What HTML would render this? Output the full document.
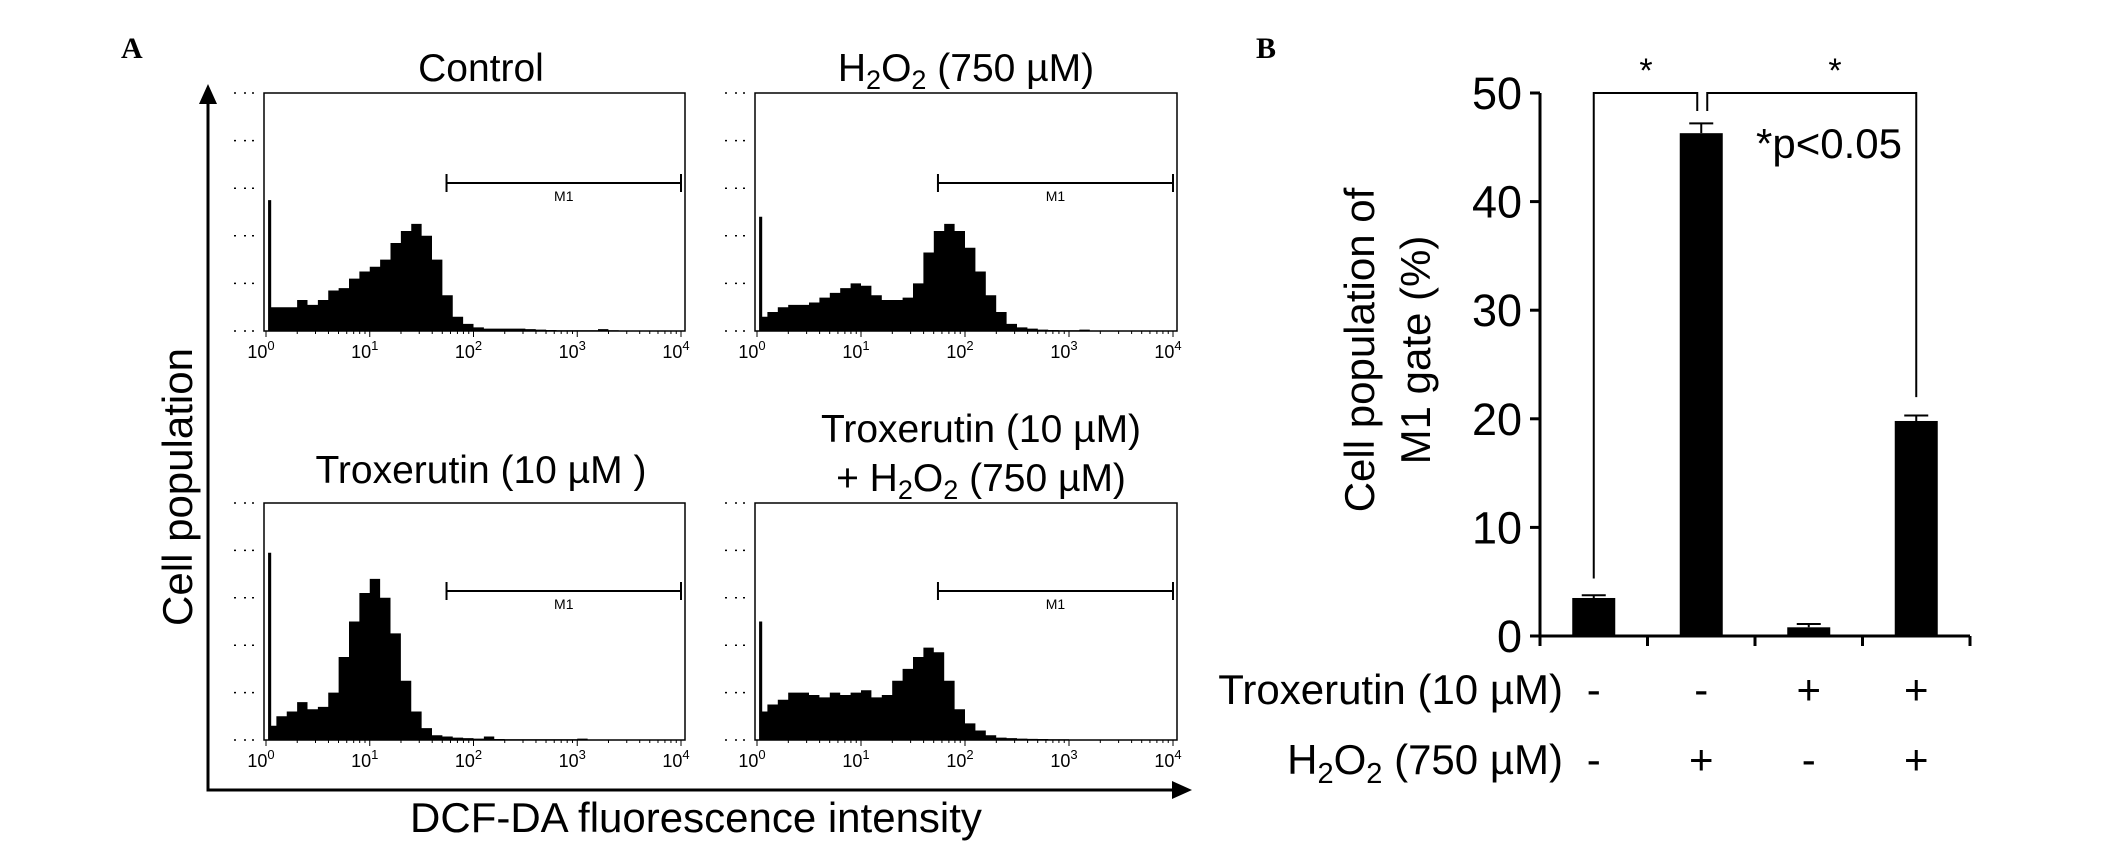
<!DOCTYPE html>
<html><head><meta charset="utf-8"><style>
html,body{margin:0;padding:0;background:#fff}
svg{display:block;font-family:"Liberation Sans",sans-serif}
</style></head><body>
<svg id="fig" width="2126" height="844" viewBox="0 0 2126 844">
<text x="121" y="58" font-family="Liberation Serif" font-weight="bold" font-size="30">A</text>
<text x="1256" y="58" font-family="Liberation Serif" font-weight="bold" font-size="30">B</text>
<g id="panelA"></g>
<g id="panelB"></g>
</svg>
<script>
const NS="http://www.w3.org/2000/svg";
function mk(tag,attrs,parent,txt){const e=document.createElementNS(NS,tag);for(const k in attrs)e.setAttribute(k,attrs[k]);if(txt!==undefined)e.textContent=txt;parent.appendChild(e);return e;}
// ---- Panel A data (relative height per 0.1-decade bin, 10^0..10^4) ----
const spikes=[0.55,0.48,0.79,0.50];
const histControl=[0.10,0.10,0.10,0.13,0.11,0.13,0.17,0.18,0.22,0.25,0.27,0.30,0.37,0.42,0.45,0.40,0.30,0.15,0.06,0.03,0.015,0.01,0.01,0.01,0.01,0.008,0.006,0.004,0.003,0.003,0.003,0.003,0.008,0.003,0.002,0.002,0.002,0.002,0.002,0.002];
const histH2O2=[0.06,0.08,0.10,0.11,0.11,0.12,0.14,0.16,0.18,0.20,0.19,0.15,0.13,0.13,0.14,0.20,0.33,0.42,0.45,0.42,0.35,0.25,0.15,0.08,0.03,0.015,0.01,0.006,0.004,0.003,0.003,0.006,0.002,0.002,0.002,0.002,0.002,0.002,0.002,0.002];
const histTrox=[0.06,0.10,0.12,0.16,0.13,0.14,0.20,0.35,0.50,0.62,0.68,0.60,0.45,0.25,0.12,0.05,0.02,0.015,0.01,0.008,0.006,0.015,0.004,0.003,0.003,0.003,0.003,0.003,0.003,0.003,0.006,0.002,0.002,0.002,0.002,0.002,0.002,0.002,0.002,0.002];
const histCombo=[0.12,0.15,0.17,0.20,0.20,0.19,0.18,0.20,0.19,0.20,0.21,0.18,0.19,0.25,0.30,0.35,0.39,0.37,0.25,0.13,0.07,0.04,0.02,0.01,0.008,0.006,0.005,0.004,0.003,0.003,0.002,0.002,0.002,0.002,0.002,0.002,0.002,0.002,0.002,0.002];
const decadeLabels=["0","1","2","3","4"];
const panels=[
 {x:264,y:93,w:421,h:238,data:histControl,name:"control",gy:183},
 {x:755,y:93,w:422,h:238,data:histH2O2,name:"h2o2",gy:183},
 {x:264,y:503,w:421,h:237,data:histTrox,name:"troxerutin",gy:591},
 {x:755,y:503,w:422,h:237,data:histCombo,name:"troxerutin-h2o2",gy:591}
];
const gateRange=[1.74,4.0];
const A=document.getElementById('panelA');
panels.forEach((p,pi)=>{
 const g=mk('g',{},A);
 
 
 const xs=v=>p.x+2+v/4*(p.w-6);
 const ys=v=>p.y+p.h-v*p.h;
 let d='M'+xs(0)+' '+ys(0);
 d+=' L'+xs(0.02)+' '+ys(0)+' L'+xs(0.02)+' '+ys(spikes[pi])+' L'+xs(0.05)+' '+ys(spikes[pi])+' L'+xs(0.05)+' '+ys(0);
 p.data.forEach((v,i)=>{d+=' L'+xs(i*0.1+(i==0?0.05:0))+' '+ys(v)+' L'+xs((i+1)*0.1)+' '+ys(v);});
 d+=' L'+xs(4)+' '+ys(0)+' Z';
 const path=mk('path',{d:d,fill:'#000'},g);
 
 
 const box=mk('rect',{x:p.x,y:p.y,width:p.w,height:p.h,fill:'none',stroke:'#000','stroke-width':1.5},g);
 
 
 for(let k=0;k<6;k++){const yy=p.y+p.h-k*p.h/5;mk('path',{d:`M${p.x-30} ${yy} h2 M${p.x-20} ${yy} h2 M${p.x-12} ${yy} h2`,stroke:'#000','stroke-width':1.5},g);}
 decadeLabels.forEach((lab,i)=>{
  const xx=xs(i);
  mk('line',{x1:xx,y1:p.y+p.h,x2:xx,y2:p.y+p.h+6,stroke:'#000'},g);
  if(i<4)for(let m=2;m<10;m++){const xm=xs(i+Math.log10(m));mk('line',{x1:xm,y1:p.y+p.h,x2:xm,y2:p.y+p.h+3,stroke:'#000'},g);}
  const t=mk('text',{x:xx-5,y:p.y+p.h+27,'font-size':18,'text-anchor':'middle'},g,'10');
  
  
  mk('tspan',{dy:-8,'font-size':13},t,lab);
 });
 const gx1=xs(gateRange[0]),gx2=xs(gateRange[1]);
 const gate=mk('path',{d:`M${gx1} ${p.gy} H${gx2} M${gx1} ${p.gy-9} V${p.gy+9} M${gx2} ${p.gy-9} V${p.gy+9}`,stroke:'#000','stroke-width':2,fill:'none'},g);
 
 
 mk('text',{x:(gx1+gx2)/2,y:p.gy+18,'font-size':14,'text-anchor':'middle'},g,'M1');
});
function title(x,y,html,name){const t=mk('text',{x:x,y:y,'font-size':39,'text-anchor':'middle'},A);t.innerHTML=html;}
const sub='<tspan font-size="27" dy="8">2</tspan>';
title(481,81,'Control','title-control');
title(966,81,'H'+sub+'<tspan dy="-8">O</tspan>'+sub+'<tspan dy="-8"> (750 µM)</tspan>','title-h2o2');
title(481,483,'Troxerutin (10 µM )','title-troxerutin');
title(981,442,'Troxerutin (10 µM)','title-combo-line1');
title(981,491,'+ H'+sub+'<tspan dy="-8">O</tspan>'+sub+'<tspan dy="-8"> (750 µM)</tspan>','title-combo-line2');
mk('path',{d:'M208 98 V790 H1178',stroke:'#000','stroke-width':3,fill:'none'},A);
mk('path',{d:'M208 84 L199 104 L217 104 Z M1192 790 L1172 781 L1172 799 Z',fill:'#000'},A);
const yl=mk('text',{x:0,y:0,'font-size':42,'text-anchor':'middle',transform:'translate(192,487) rotate(-90)'},A,'Cell population');

const xl=mk('text',{x:696,y:832,'font-size':42,'text-anchor':'middle'},A,'DCF-DA fluorescence intensity');


// ---- Panel B data ----
const groups=["ctrl","h2o2","trox","trox-h2o2"];
const means=[3.5,46.3,0.8,19.8];
const errors=[0.25,0.9,0.3,0.5];
const yTicks=[0,10,20,30,40,50];
const troxSigns=["-","-","+","+"];
const h2o2Signs=["-","+","-","+"];
const B=document.getElementById('panelB');
const bx0=1540,bx1=1970,by0=636,by50=93;
const yB=v=>by0-(v/50)*(by0-by50);
const xB=i=>bx0+(i+0.5)*(bx1-bx0)/groups.length;
mk('path',{d:`M${bx0} ${by50} V${by0} H${bx1}`,stroke:'#000','stroke-width':3,fill:'none'},B);
for(let i=0;i<=groups.length;i++){const xx=bx0+i*(bx1-bx0)/groups.length;mk('line',{x1:xx,y1:by0,x2:xx,y2:by0+10,stroke:'#000','stroke-width':3},B);}
yTicks.forEach(v=>{
 mk('line',{x1:bx0-10,y1:yB(v),x2:bx0,y2:yB(v),stroke:'#000','stroke-width':3},B);
 const t=mk('text',{x:bx0-18,y:yB(v)+16,'font-size':45,'text-anchor':'end'},B,String(v));
 
});
means.forEach((m,i)=>{
 const cx=xB(i),w=43;
 const r=mk('rect',{x:cx-w/2,y:yB(m),width:w,height:by0-yB(m),fill:'#000'},B);
 
 
 const e=mk('path',{d:`M${cx} ${yB(m)} V${yB(m+errors[i])} M${cx-12} ${yB(m+errors[i])} H${cx+12}`,stroke:'#000','stroke-width':2},B);
 
 
 mk('text',{x:cx,y:704,'font-size':42,'text-anchor':'middle'},B,troxSigns[i]);
 mk('text',{x:cx,y:774,'font-size':42,'text-anchor':'middle'},B,h2o2Signs[i]);
});
const br=mk('path',{d:`M${xB(0)} ${yB(5.3)} V${by50} H${xB(1)-4} V${by50+18} M${xB(1)+6} ${by50+18} V${by50} H${xB(3)} V${yB(22)}`,stroke:'#000','stroke-width':2,fill:'none'},B);

mk('text',{x:1646,y:82,'font-size':34,'text-anchor':'middle'},B,'*');
mk('text',{x:1835,y:82,'font-size':34,'text-anchor':'middle'},B,'*');
const pv=mk('text',{x:1756,y:158,'font-size':42},B,'*p<0.05');

const yt=mk('text',{'font-size':42,'text-anchor':'middle',transform:'translate(1374,350) rotate(-90)'},B);

mk('tspan',{x:0,y:0},yt,'Cell population of');
mk('tspan',{x:0,y:56},yt,'M1 gate (%)');
const r1=mk('text',{x:1563,y:704,'font-size':42,'text-anchor':'end'},B,'Troxerutin (10 µM)');

const r2=mk('text',{x:1563,y:774,'font-size':42,'text-anchor':'end'},B);
r2.innerHTML='H<tspan font-size="29" dy="9">2</tspan><tspan dy="-9">O</tspan><tspan font-size="29" dy="9">2</tspan><tspan dy="-9"> (750 µM)</tspan>';

</script>
</body></html>
